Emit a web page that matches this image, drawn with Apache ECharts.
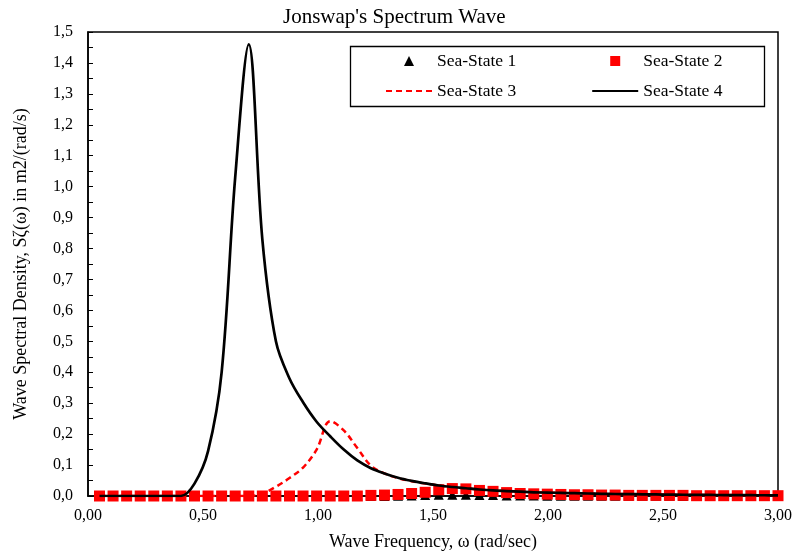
<!DOCTYPE html>
<html>
<head>
<meta charset="utf-8">
<script src="https://cdn.jsdelivr.net/npm/echarts@6/dist/echarts.min.js"></script>
<style>
  html, body { margin: 0; padding: 0; background: #fff; }
  #chart { width: 795px; height: 556px; }
</style>
</head>
<body>
<div id="chart"></div>
<script>
// wave frequency grid (rad/sec)
const omega = [0.050, 0.109, 0.168, 0.227, 0.286, 0.345, 0.404, 0.463, 0.522, 0.581,
  0.640, 0.699, 0.758, 0.817, 0.876, 0.935, 0.994, 1.053, 1.112, 1.171,
  1.230, 1.289, 1.348, 1.407, 1.466, 1.525, 1.584, 1.643, 1.702, 1.761,
  1.820, 1.879, 1.938, 1.997, 2.056, 2.115, 2.174, 2.233, 2.292, 2.351,
  2.410, 2.469, 2.528, 2.587, 2.646, 2.705, 2.764, 2.823, 2.882, 2.941, 3.000]

const seaState1 = [0, 0, 0, 0, 0, 0, 0, 0, 0, 0,
  0, 0, 0, 0, 0, 0, 0, 0, 0, 0,
  0, 0, 0.001, 0.002, 0.003, 0.004, 0.004, 0.004, 0.003, 0.003,
  0.002, 0.002, 0.002, 0.001, 0.001, 0.001, 0.001, 0.001, 0.001, 0.001,
  0.001, 0.001, 0.001, 0, 0, 0, 0, 0, 0, 0, 0]

const seaState2 = [0, 0, 0, 0, 0, 0, 0, 0, 0, 0,
  0, 0, 0, 0, 0, 0, 0, 0, 0, 0,
  0.002, 0.003, 0.005, 0.008, 0.012, 0.020, 0.024, 0.023, 0.018, 0.015,
  0.011, 0.008, 0.007, 0.006, 0.005, 0.004, 0.004, 0.003, 0.003, 0.002,
  0.002, 0.002, 0.002, 0.002, 0.001, 0.001, 0.001, 0.001, 0.001, 0.001, 0.001]

const seaState3 = [0, 0, 0, 0, 0, 0, 0, 0, 0, 0,
  0, 0, 0.008, 0.030, 0.058, 0.092, 0.150, 0.242, 0.212, 0.155,
  0.098, 0.073, 0.058, 0.048, 0.040, 0.034, 0.029, 0.025, 0.021, 0.018,
  0.016, 0.014, 0.012, 0.011, 0.010, 0.009, 0.008, 0.007, 0.0065, 0.006,
  0.0055, 0.005, 0.0045, 0.004, 0.0037, 0.0034, 0.0031, 0.0028, 0.0026, 0.0024, 0.0022]

const seaState4 = [0, 0, 0, 0, 0, 0, 0, 0.040, 0.145, 0.400,
  1.030, 1.460, 0.830, 0.500, 0.380, 0.303, 0.240, 0.193, 0.150, 0.115,
  0.090, 0.073, 0.059, 0.049, 0.041, 0.034, 0.029, 0.025, 0.021, 0.018,
  0.016, 0.014, 0.012, 0.011, 0.010, 0.009, 0.008, 0.007, 0.0065, 0.006,
  0.0055, 0.005, 0.0045, 0.004, 0.0037, 0.0034, 0.0031, 0.0028, 0.0026, 0.0024, 0.0022]

const seriesNames = ['Sea-State 1', 'Sea-State 2', 'Sea-State 3', 'Sea-State 4']
const xTicks = [0, 0.5, 1, 1.5, 2, 2.5, 3]

const pairs = ys => omega.map((x, i) => [x, ys[i]])
const FONT = 'Liberation Serif'

const chart = echarts.init(document.getElementById('chart'))

chart.setOption({
  animation: false,
  backgroundColor: '#fff',
  title: {
    text: "Jonswap's Spectrum Wave",
    left: 278,
    top: 2,
    textStyle: { fontFamily: FONT, fontSize: 21, fontWeight: 'normal', color: '#000' }
  },
  legend: [
    {
      // marker row: small icons, text pushed right to line up with the row below
      data: [seriesNames[0], seriesNames[1]],
      top: 52,
      left: 404,
      itemWidth: 10,
      itemHeight: 10,
      itemGap: 94,
      padding: 0,
      textStyle: { fontFamily: FONT, fontSize: 17.5, color: '#000', padding: [0, 0, 0, 18] }
    },
    {
      data: [
        { name: seriesNames[2], itemStyle: { opacity: 0 } },
        { name: seriesNames[3], itemStyle: { opacity: 0 } }
      ],
      top: 82,
      left: 385,
      itemWidth: 46,
      itemHeight: 10,
      itemGap: 75,
      padding: 0,
      textStyle: { fontFamily: FONT, fontSize: 17.5, color: '#000' }
    }
  ],
  graphic: [{
    type: 'rect',
    left: 348, top: 44,
    shape: { width: 414, height: 60 },
    style: { fill: 'none', stroke: '#000', lineWidth: 1.3 },
    z: 100
  }],
  grid: {
    left: 88, right: 14, top: 32, bottom: 59,
    show: true, borderColor: '#000', borderWidth: 1.5
  },
  xAxis: {
    type: 'value',
    min: 0, max: 3, interval: 0.5,
    name: 'Wave Frequency, ω (rad/sec)',
    nameLocation: 'middle',
    nameGap: 37,
    nameTextStyle: { fontFamily: FONT, fontSize: 18, color: '#000' },
    axisLine: { lineStyle: { color: '#000', width: 1.5 } },
    axisTick: { show: false },
    splitLine: { show: false },
    axisLabel: {
      margin: 12,
      fontFamily: FONT, fontSize: 16, color: '#000',
      formatter: v => xTicks.includes(v) ? v.toFixed(2).replace('.', ',') : ''
    }
  },
  yAxis: {
    type: 'value',
    min: 0, max: 1.5, interval: 0.05,
    name: 'Wave Spectral Density, Sζ(ω) in m2/(rad/s)',
    nameLocation: 'middle',
    nameGap: 58,
    nameTextStyle: { fontFamily: FONT, fontSize: 18, color: '#000' },
    axisLine: { show: true, lineStyle: { color: '#000', width: 1.5 } },
    axisTick: { show: true, inside: true, length: 5, lineStyle: { color: '#000' } },
    splitLine: { show: false },
    axisLabel: {
      margin: 15,
      fontFamily: FONT, fontSize: 16, color: '#000',
      formatter: v => Math.round(v * 100) % 10 === 0 ? v.toFixed(1).replace('.', ',') : ''
    }
  },
  series: [
    {
      name: seriesNames[0],
      type: 'scatter',
      symbol: 'triangle',
      symbolSize: 10,
      itemStyle: { color: '#000', opacity: 1 },
      data: pairs(seaState1)
    },
    {
      name: seriesNames[1],
      type: 'scatter',
      symbol: 'rect',
      symbolSize: 11,
      itemStyle: { color: '#ff0000', opacity: 1 },
      data: pairs(seaState2)
    },
    {
      name: seriesNames[2],
      type: 'line',
      smooth: 0.35,
      showSymbol: false,
      symbol: 'none',
      lineStyle: { color: '#ff0000', width: 2.5, type: [6, 4] },
      itemStyle: { color: '#ff0000' },
      data: pairs(seaState3)
    },
    {
      name: seriesNames[3],
      type: 'line',
      smooth: 0.35,
      showSymbol: false,
      symbol: 'none',
      lineStyle: { color: '#000', width: 2.7 },
      itemStyle: { color: '#000' },
      data: pairs(seaState4)
    }
  ]
})
</script>
</body>
</html>
